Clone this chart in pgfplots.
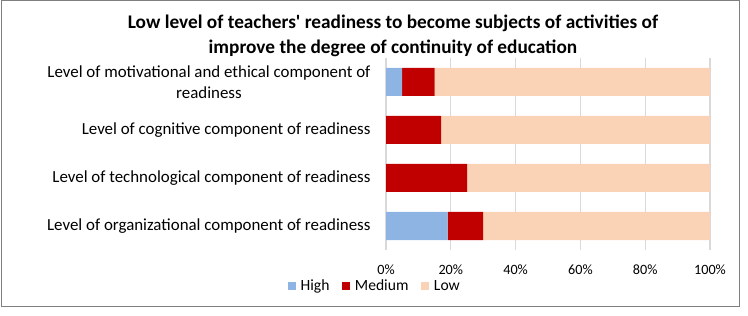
\documentclass[border=0pt]{standalone}
\usepackage{pgfplots}
\pgfplotsset{compat=1.18}
\usepackage{fontspec}
\setmainfont{Carlito}[Ligatures=TeXOff]
\definecolor{cHigh}{HTML}{8EB4E3}
\definecolor{cMed}{HTML}{C00000}
\definecolor{cLow}{HTML}{FAD3B6}
\definecolor{cGrid}{HTML}{D9D9D9}
\definecolor{cFrame}{HTML}{7F7F7F}
\begin{document}
\begin{tikzpicture}
\useasboundingbox (0,0) rectangle (748bp,316bp);
\draw[cFrame, line width=1bp] (1.5bp,9.5bp) rectangle (739.5bp,315bp);
\node[font=\fontsize{19.3bp}{25bp}\selectfont\bfseries, align=center] at (393bp,280bp)
  {Low level of teachers' readiness to become subjects of activities of\\improve the degree of continuity of education};
\begin{axis}[
  at={(386bp,66bp)}, anchor=south west,
  scale only axis, width=324bp, height=192bp,
  xbar stacked, bar width=28bp,
  xmin=0, xmax=100, ymin=-0.5, ymax=3.5,
  xtick={0,20,40,60,80,100},
  xticklabel={\pgfmathprintnumber{\tick}\%},
  /pgf/number format/assume math mode=true,
  ytick={0,1,2,3},
  yticklabels={Level of organizational component of readiness,
               Level of technological component of readiness,
               Level of cognitive component of readiness,
               {Level of motivational and ethical component of\\readiness}},
  yticklabel style={align=center, font=\fontsize{16.9bp}{21.5bp}\selectfont, xshift=-12bp},
  xticklabel style={font=\fontsize{14.2bp}{17bp}\selectfont, yshift=-11bp},
  axis line style={draw=none},
  major tick length=0pt,
  xmajorgrids, grid style={cGrid, line width=1.2bp},
  legend style={at={(-0.034,-0.1875)}, anchor=center, draw=none, fill=none,
    legend columns=3, font=\fontsize{15.6bp}{18bp}\selectfont,
    /tikz/every odd column/.append style={column sep=2.5bp},
    /tikz/every even column/.append style={column sep=11bp}},
  legend cell align=left,
  legend image code/.code={\fill[#1] (0bp,-4bp) rectangle (8bp,4bp);},
]
\addplot[fill=cHigh, draw=none] coordinates {(19,0) (0,1) (0,2) (5,3)};
\addplot[fill=cMed, draw=none] coordinates {(11,0) (25,1) (17,2) (10,3)};
\addplot[fill=cLow, draw=none] coordinates {(70,0) (75,1) (83,2) (85,3)};
\legend{High, Medium, Low}
\end{axis}
\end{tikzpicture}
\end{document}
